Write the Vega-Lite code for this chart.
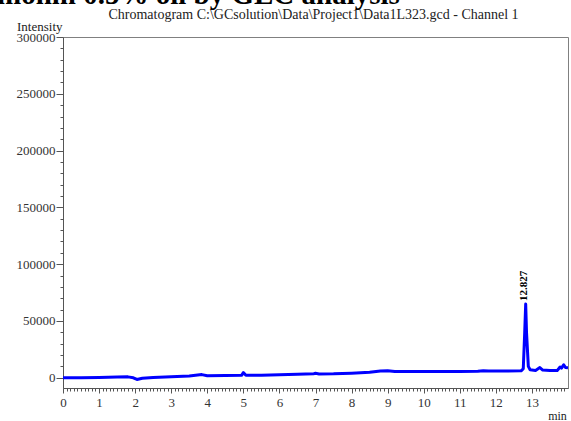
{
  "$schema": "https://vega.github.io/schema/vega-lite/v6.json",
  "width": 505,
  "height": 351,
  "autosize": {"type": "none"},
  "padding": {"left": 63, "top": 37, "right": 3, "bottom": 33},
  "background": "white",
  "title": {
    "text": "mohm 0.5% oil by GLC analysis",
    "anchor": "start",
    "frame": "group",
    "dx": -66,
    "dy": 26,
    "offset": 0,
    "baseline": "alphabetic",
    "font": "Liberation Serif",
    "fontSize": 29,
    "fontWeight": "bold",
    "color": "black"
  },
  "datasets": {
    "trace": [
      {"t": 0, "v": 0}, {"t": 0.5, "v": 0}, {"t": 1.0, "v": 200}, {"t": 1.5, "v": 600},
      {"t": 1.8, "v": 800}, {"t": 1.95, "v": 0}, {"t": 2.05, "v": -1500}, {"t": 2.2, "v": -400},
      {"t": 2.5, "v": 300}, {"t": 3.0, "v": 900}, {"t": 3.5, "v": 1500}, {"t": 3.85, "v": 2800},
      {"t": 4.0, "v": 1800}, {"t": 4.5, "v": 2000}, {"t": 4.95, "v": 2200}, {"t": 5.0, "v": 4500},
      {"t": 5.07, "v": 2200}, {"t": 5.5, "v": 2300}, {"t": 6.0, "v": 2600}, {"t": 6.5, "v": 3000},
      {"t": 6.95, "v": 3600}, {"t": 7.0, "v": 3900}, {"t": 7.1, "v": 3400}, {"t": 7.5, "v": 3500},
      {"t": 8.0, "v": 4000}, {"t": 8.5, "v": 4800}, {"t": 8.8, "v": 6000}, {"t": 9.0, "v": 6200},
      {"t": 9.2, "v": 5600}, {"t": 9.5, "v": 5500}, {"t": 10.0, "v": 5500}, {"t": 10.5, "v": 5500},
      {"t": 11.0, "v": 5600}, {"t": 11.5, "v": 5800}, {"t": 11.65, "v": 6200}, {"t": 11.8, "v": 5900},
      {"t": 12.3, "v": 5900}, {"t": 12.7, "v": 6100}, {"t": 12.76, "v": 8000}, {"t": 12.8, "v": 40000},
      {"t": 12.827, "v": 65000}, {"t": 12.85, "v": 40000}, {"t": 12.9, "v": 10000}, {"t": 12.95, "v": 7000},
      {"t": 13.1, "v": 6500}, {"t": 13.22, "v": 9000}, {"t": 13.3, "v": 6800}, {"t": 13.5, "v": 6400},
      {"t": 13.7, "v": 6300}, {"t": 13.78, "v": 9500}, {"t": 13.82, "v": 8500}, {"t": 13.88, "v": 11500},
      {"t": 13.93, "v": 9000}, {"t": 14.0, "v": 8800}
    ],
    "peaks": [{"t": 12.827, "v": 65000, "label": "12.827"}]
  },
  "layer": [
    {
      "data": {"name": "trace"},
      "mark": {"type": "line", "color": "#0000ff", "strokeWidth": 3, "clip": true, "strokeJoin": "round"},
      "encoding": {
        "x": {
          "field": "t", "type": "quantitative",
          "scale": {"domain": [0, 14], "nice": false, "zero": false},
          "axis": {
            "orient": "bottom",
            "values": [0,1,2,3,4,5,6,7,8,9,10,11,12,13],
            "format": "d",
            "labelOverlap": false,
            "labelFlush": false,
            "labelFont": "Liberation Serif",
            "labelFontSize": 13,
            "labelColor": "#333333",
            "tickSize": 5,
            "tickColor": "#555555",
            "domainColor": "#555555",
            "labelPadding": 3,
            "grid": false,
            "title": "min",
            "titleFont": "Liberation Serif",
            "titleFontWeight": "normal",
            "titleColor": "#222222",
            "titleX": 494,
            "titleY": 31,
            "titleAlign": "center",
            "titleBaseline": "alphabetic",
            "titleFontSize": 12
          }
        },
        "y": {
          "field": "v", "type": "quantitative",
          "scale": {"domain": [-9000, 300000], "nice": false, "zero": false},
          "axis": {
            "orient": "left",
            "values": [0,50000,100000,150000,200000,250000,300000],
            "format": "d",
            "labelOverlap": false,
            "labelFlush": false,
            "labelFont": "Liberation Serif",
            "labelFontSize": 13,
            "labelColor": "#333333",
            "tickSize": 7,
            "tickColor": "#555555",
            "domainColor": "#555555",
            "labelPadding": 1,
            "grid": false,
            "title": "Intensity",
            "titleFont": "Liberation Serif",
            "titleFontWeight": "normal",
            "titleColor": "#222222",
            "titleAngle": 0,
            "titleX": -1,
            "titleY": -7,
            "titleAlign": "right",
            "titleBaseline": "alphabetic",
            "titleFontSize": 13
          }
        }
      }
    },
    {
      "data": {"name": "trace"},
      "mark": {"type": "line", "opacity": 0},
      "encoding": {
        "x": {
          "field": "t", "type": "quantitative",
          "axis": {
            "orient": "bottom",
            "values": [0.1,0.2,0.3,0.4,0.5,0.6,0.7,0.8,0.9,1.1,1.2,1.3,1.4,1.5,1.6,1.7,1.8,1.9,2.1,2.2,2.3,2.4,2.5,2.6,2.7,2.8,2.9,3.1,3.2,3.3,3.4,3.5,3.6,3.7,3.8,3.9,4.1,4.2,4.3,4.4,4.5,4.6,4.7,4.8,4.9,5.1,5.2,5.3,5.4,5.5,5.6,5.7,5.8,5.9,6.1,6.2,6.3,6.4,6.5,6.6,6.7,6.8,6.9,7.1,7.2,7.3,7.4,7.5,7.6,7.7,7.8,7.9,8.1,8.2,8.3,8.4,8.5,8.6,8.7,8.8,8.9,9.1,9.2,9.3,9.4,9.5,9.6,9.7,9.8,9.9,10.1,10.2,10.3,10.4,10.5,10.6,10.7,10.8,10.9,11.1,11.2,11.3,11.4,11.5,11.6,11.7,11.8,11.9,12.1,12.2,12.3,12.4,12.5,12.6,12.7,12.8,12.9,13.1,13.2,13.3,13.4,13.5,13.6,13.7,13.8,13.9],
            "labels": false,
            "domain": false,
            "tickSize": 3,
            "tickColor": "#555555",
            "grid": false,
            "title": null
          }
        },
        "y": {
          "field": "v", "type": "quantitative",
          "axis": {
            "orient": "left",
            "values": [10000,20000,30000,40000,60000,70000,80000,90000,110000,120000,130000,140000,160000,170000,180000,190000,210000,220000,230000,240000,260000,270000,280000,290000],
            "labels": false,
            "domain": false,
            "tickSize": 3,
            "tickColor": "#555555",
            "grid": false,
            "title": null
          }
        }
      }
    },
    {
      "data": {"name": "peaks"},
      "mark": {"type": "text", "angle": 270, "align": "left", "baseline": "middle", "dx": 3, "dy": -2, "font": "Liberation Serif", "fontSize": 11, "fontWeight": "bold", "color": "black"},
      "encoding": {
        "x": {
          "field": "t", "type": "quantitative",
          "axis": {
            "orient": "top",
            "domain": false, "ticks": false, "labels": false, "grid": false,
            "title": "Chromatogram C:\\GCsolution\\Data\\Project1\\Data1L323.gcd - Channel 1",
            "titleFont": "Liberation Serif",
            "titleFontWeight": "normal",
            "titleColor": "#222222",
            "titleX": 250,
            "titleY": -19,
            "titleAlign": "center",
            "titleBaseline": "alphabetic",
            "titleFontSize": 14
          }
        },
        "y": {"field": "v", "type": "quantitative", "axis": null},
        "text": {"field": "label"}
      }
    }
  ],
  "resolve": {"axis": {"x": "independent", "y": "independent"}},
  "config": {
    "view": {"stroke": "#808080", "strokeWidth": 1}
  }
}
